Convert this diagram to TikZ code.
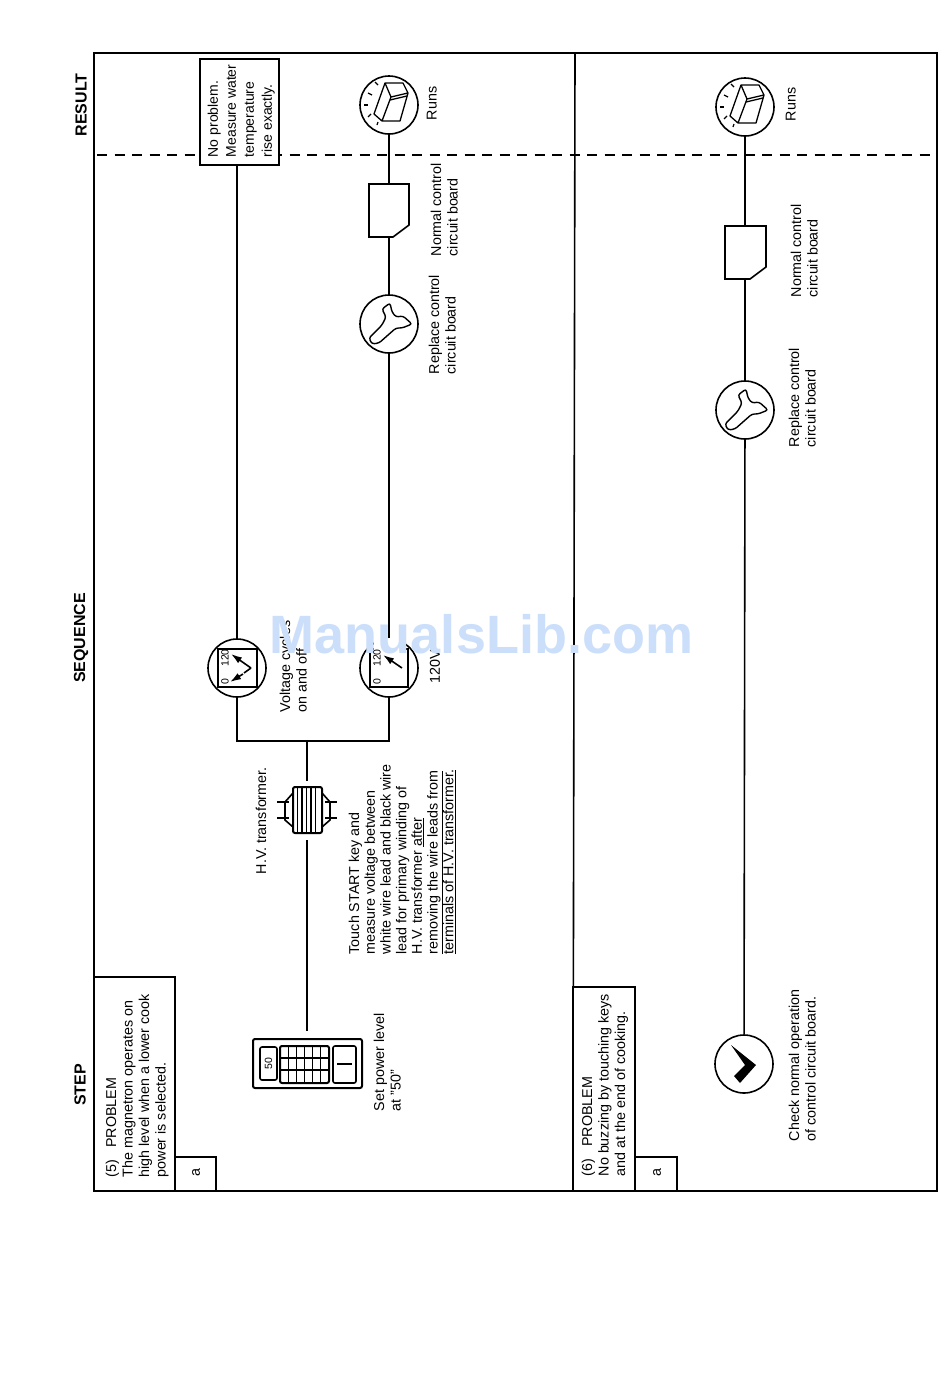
\documentclass[tikz,border=0pt]{standalone}
\usepackage{fontspec}
\setmainfont{Liberation Sans}
\usetikzlibrary{arrows.meta}
\definecolor{markblue}{HTML}{CCDFFA}

\tikzset{
  wrench/.pic={\draw[line width=1.4pt,rounded corners=2.5pt] (-20,14) -- (-7,1) -- (-3,-7) -- (-7,-15) -- (1,-21)
    -- (3,-12) -- (7,-7) -- (14,-8) -- (23,0) -- (13,4) -- (7,4) -- (-10,19) -- (-17,20) -- cycle;},
  oven/.pic={
    \draw[line width=1.3pt,line join=round] (-4,-22) -- (14,-22) -- (19,-12) -- (11,16) -- (-7,16) -- (-15,9) -- cycle
      (-4,-22) -- (2,-8) -- (19,-12) (2,-8) -- (-7,16);
    \draw[line width=1.3pt] (1,-5) -- (18,-9);
    \foreach \a/\b/\c/\d in {-14/-23/-11/-20,-21/-12/-17/-10,-25/0/-21/0,-21/12/-18/9,-12/20/-11/17}
      \draw[line width=1.2pt] (\a,\b) -- (\c,\d);},
  chevron/.pic={\fill (-13,-19) -- (12,1) -- (-4,19) -- (-10,12) -- (1,1) -- cycle;}
}

\begin{document}
\begin{tikzpicture}[
  x=1pt,y=-1pt,
  >=Latex,
  line width=1.6pt,
  lbl/.style={rotate=90,anchor=north west,align=left,inner sep=0pt,
    font=\fontsize{14.3}{16.5}\selectfont},
  heading/.style={rotate=90,inner sep=0pt,font=\fontsize{16}{18}\selectfont\bfseries},
  tag/.style={rotate=90,inner sep=0pt,font=\fontsize{14.3}{16.5}\selectfont},
  circ/.style={draw,circle,minimum size=58pt,inner sep=0pt},
  slot/.style={minimum height=53pt,inner sep=0pt},
  scale label/.style={rotate=90,inner sep=0pt,font=\fontsize{10.5}{12}\selectfont},
  wire/.style={line width=1.6pt},
  needle/.style={-{Latex[length=11pt,width=7pt]},line width=1.6pt}
]
  \useasboundingbox (0,0) rectangle (950,1379);

  \draw (94,53) rectangle (937,1191);
  \draw (575,53) -- (573,1191);
  \draw[dash pattern=on 10pt off 7.5pt] (97,155) -- (938,155);
  \draw[fill=white] (94,977) rectangle (175,1191);
  \draw (175,1157) rectangle (216,1191);
  \draw[fill=white] (573,987) rectangle (635,1191);
  \draw (635,1157) rectangle (677,1191);
  \node[tag] (stepA) at (196,1173) {a};
  \node[tag] (stepB) at (657,1173) {a};

  \node[heading] (step) at (80,1085) {STEP};
  \node[heading] (sequence) at (81,638) {SEQUENCE};
  \node[heading] (result) at (81,105) {RESULT};

  \node[lbl] (problemA) at (105,1178) {(5)\hspace{12pt}PROBLEM\\The magnetron operates on\\high level when a lower cook\\power is selected.};
  \node[lbl] (problemB) at (581,1177) {(6)\hspace{12pt}PROBLEM\\No buzzing by touching keys\\and at the end of cooking.};

  \node[draw,fill=white,minimum width=79pt,minimum height=106pt,inner sep=0pt] (noprob) at (239.5,112) {};
  \node[lbl,font=\fontsize{14}{18}\selectfont] (noprobtext) at (207,158) {No problem.\\Measure water\\temperature\\rise exactly.};

  \node[draw,line width=2pt,rounded corners=2pt,minimum width=109pt,minimum height=49pt,inner sep=0pt] (panel) at (307.5,1063.5) {};
  \draw[rounded corners=2pt] (260,1047) rectangle (277,1080);
  \node[scale label] (panel50) at (268.5,1063.5) {50};
  \draw[line width=2pt,rounded corners=2pt] (280,1046) rectangle (329,1083);
  \foreach \x in {288.5,296.5,304.5,312.5,320.5}
    \draw (\x,1046) -- (\x,1083);
  \draw (280,1058) -- (329,1058) (280,1070) -- (329,1070);
  \draw[rounded corners=2pt] (333,1046) rectangle (356,1083);
  \draw (337,1064) -- (352,1064);
  \node[lbl] (powerlabel) at (373,1112) {Set power level\\at "50"};

  \node[draw,line width=2pt,rounded corners=2pt,minimum width=29pt,minimum height=46pt,inner sep=0pt] (hvt) at (307.5,810) {};
  \foreach \x in {297.5,302,306.5,311,315.5}
    \draw[line width=1.3pt] (\x,787) -- (\x,833);
  \draw (293,793) -- (285,802) -- (285,820) -- (293,827);
  \draw (322,793) -- (330,802) -- (330,820) -- (322,827);
  \draw (277,802) -- (289,802) (277,818) -- (289,818);
  \draw (325,802) -- (337,802) (325,818) -- (337,818);
  \node[lbl] (hvtlabel) at (255,875) {H.V. transformer.};
  \node[lbl,font=\fontsize{14.3}{15.7}\selectfont] (touchlabel) at (348,955) {Touch START key and\\measure voltage between\\white wire lead and black wire\\lead for primary winding of\\H.V. transformer \underline{after}\\\underline{removing the wire leads from}\\\underline{terminals of H.V. transformer.}};

  \node[lbl] (cycleslabel) at (279,713) {Voltage cycles\\on and off};
  \node[lbl] (voltlabel) at (429,684) {120V};

  \node[circ] (meterA) at (237,668) {};
  \draw (218,649) rectangle (257,687);
  \node[circ] (meterB) at (389,668) {};
  \draw (370,649) rectangle (408,687);
  \fill[white] (374,636) rectangle (405,651);

  \node[inner sep=0pt,text=markblue,font=\fontsize{54}{60}\selectfont\bfseries] (watermark) at (481.5,634) {ManualsLib.com};

  \node[scale label] (scaleAhigh) at (225,658) {120};
  \node[scale label] (scaleAlow) at (225,682) {0};
  \node[scale label] (scaleBhigh) at (377,658) {120};
  \node[scale label] (scaleBlow) at (377,682) {0};
  \draw[needle] (251,668) -- (231,654);
  \draw[needle] (243,674) -- (230,682);
  \draw (251,668) -- (244,673);
  \draw[needle] (402,668) -- (383,655);

  \node[circ] (fixA) at (389,324) {};
  \pic at (fixA) {wrench};
  \node[slot,minimum width=40pt] (boardA) at (389,210.5) {};
  \draw (369,184) -- (409,184) -- (409,225) -- (393,237) -- (369,237) -- cycle;
  \node[circ] (runsA) at (389,105) {};
  \pic at (runsA) {oven};
  \node[lbl] (fixAlabel) at (428,375) {Replace control\\circuit board};
  \node[lbl] (boardAlabel) at (430,257) {Normal control\\circuit board};
  \node[lbl] (runsAlabel) at (426,121) {Runs};

  \node[circ] (check) at (744,1064) {};
  \pic at (check) {chevron};
  \node[lbl] (checklabel) at (788,1142) {Check normal operation\\of control circuit board.};
  \node[circ] (fixB) at (745,410) {};
  \pic at (fixB) {wrench};
  \node[slot,minimum width=41pt] (boardB) at (745,252.5) {};
  \draw (725,226) -- (766,226) -- (766,267) -- (750,279) -- (725,279) -- cycle;
  \node[circ] (runsB) at (745,107) {};
  \pic at (runsB) {oven};
  \node[lbl] (fixBlabel) at (788,448) {Replace control\\circuit board};
  \node[lbl] (boardBlabel) at (790,298) {Normal control\\circuit board};
  \node[lbl] (runsBlabel) at (785,122) {Runs};

  \coordinate (bus) at (307,741);
  \draw[wire] (noprob.south -| meterA) -- (meterA);
  \draw[wire] (meterA) |- (bus) -| (meterB);
  \draw[wire,shorten >=5pt] (bus) -- (hvt.north -| bus);
  \draw[wire,shorten <=6pt,shorten >=7pt] (hvt.south -| bus) -- (panel.north -| bus);
  \draw[wire] (meterB) -- (fixA);
  \draw[wire] (fixA) -- (boardA);
  \draw[wire] (boardA) -- (runsA);
  \draw[wire] (check) -- (fixB);
  \draw[wire] (fixB) -- (boardB);
  \draw[wire] (boardB) -- (runsB);
\end{tikzpicture}
\end{document}
